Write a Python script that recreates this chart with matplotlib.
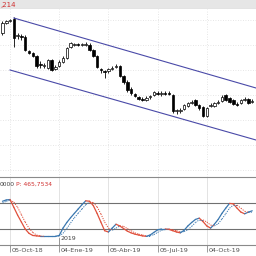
import matplotlib
matplotlib.use("Agg")
import matplotlib.pyplot as plt
import matplotlib.dates as mdates
from matplotlib.patches import Rectangle
import numpy as np
import pandas as pd

# weekly candles (Fridays)
weeks = pd.date_range("2018-09-21", periods=67, freq="7D")

# OHLC
opens = [167, 177, 179, 181, 164, 164.5, 163, 149, 147, 144, 136, 134.5, 132, 140, 131, 134, 138, 142, 153, 155,
         155.5, 155, 155, 155, 150, 144, 130.5, 129, 129, 131, 133.5, 134, 124, 118, 111, 106, 103, 101, 100, 103,
         105, 107, 106.5, 107.5, 107, 105, 89, 89.5, 91, 94, 97, 100, 95, 93, 84, 94, 94, 97.5, 99, 105, 102,
         100, 96, 97, 100.5, 101, 98]
closes = [177, 179, 180, 162, 164.5, 163.5, 150, 147.5, 144, 134, 135, 135.5, 140, 130, 133, 138, 142, 152, 157, 155.5,
          155, 156, 156.5, 150, 144, 133, 130, 128, 131, 132, 134.5, 124, 118, 110, 107, 104, 101.5, 100.5, 102.5, 104,
          108, 106.5, 107.5, 106.5, 106, 89, 89.5, 90, 95, 97, 98, 95, 92, 84, 92, 95.5, 97, 98, 103, 100, 98,
          96, 95.5, 100, 101, 97, 99.5]
highs = [179, 180, 181, 183, 167, 166, 165, 150, 148, 145, 139, 137, 141, 141, 135, 140, 144, 153, 158, 157,
         157, 157, 158, 157, 151, 145, 132, 130, 132, 134, 136, 135, 125, 120, 113, 107, 104, 103, 104, 105,
         109, 109, 109, 109, 109, 106, 91, 92, 96, 98, 100, 101, 96, 94, 93, 97, 98, 100, 105, 106, 103,
         101, 98, 101, 103, 102, 101]
lows = [165, 176, 178, 153, 161, 160, 149, 146, 143, 132, 132, 132, 131, 129, 130, 133, 137, 141, 152, 154,
        154, 154, 154, 149, 143, 132, 127, 122, 127, 130, 132, 123, 116, 108, 105, 103, 100, 99, 99, 101,
        104, 105, 104, 105, 105, 87, 86, 87, 90, 93, 96, 94, 90, 83, 83, 93, 93, 96, 98, 99, 97,
        95, 94, 96, 99, 96, 97]

# channel lines (start date, price) -> (end date, price)
chan_dates = ["2018-10-12", "2020-01-03"]
chan_upper = [182, 112]
chan_lower_dates = ["2018-10-05", "2020-01-03"]
chan_lower = [130, 60]

# stochastic %K (solid) and %D (dotted)
stoch_k = [84, 87, 88, 70, 52, 36, 20, 10, 5, 4, 3, 3, 3, 3, 3, 5, 22, 35, 46, 56,
           66, 76, 85, 84, 74, 56, 36, 16, 13, 22, 31, 27, 21, 15, 11, 8, 6, 4, 3, 6,
           12, 18, 20, 20, 19, 16, 13, 11, 17, 27, 35, 42, 45, 37, 27, 22, 31, 42, 56, 68,
           79, 78, 68, 59, 55, 59, 62]
stoch_d = [80, 84, 86, 82, 70, 53, 36, 22, 12, 6, 4, 3, 3, 3, 3, 4, 10, 21, 34, 46,
           56, 66, 76, 82, 81, 71, 55, 36, 22, 17, 22, 27, 26, 21, 16, 11, 8, 6, 4, 4,
           7, 12, 17, 19, 20, 18, 16, 13, 14, 18, 26, 35, 41, 41, 36, 29, 27, 32, 43, 55,
           68, 75, 75, 68, 61, 58, 59]

tick_dates = ["2018-10-05", "2019-01-04", "2019-04-05", "2019-07-05", "2019-10-04"]
tick_labels = ["05-Oct-18", "04-Ene-19", "05-Abr-19", "05-Jul-19", "04-Oct-19"]

RED = "#e0503c"
BLUE = "#3b78b0"
CHAN = "#4a4aa8"
GRID = "#dedede"

x = mdates.date2num(weeks)
xmin = mdates.date2num(pd.Timestamp("2018-09-16 10:00"))
xmax = mdates.date2num(pd.Timestamp("2020-01-03"))
tx = mdates.date2num(pd.to_datetime(tick_dates))

fig = plt.figure(figsize=(2.56, 2.56), dpi=100)

# top info bar
bar = fig.add_axes([0, 1 - 9 / 256, 1, 9 / 256])
bar.set_facecolor("#e6e6e6")
bar.set_xticks([])
bar.set_yticks([])
for s in bar.spines.values():
    s.set_visible(False)
bar.axhline(0, color="#b0b0b0", lw=0.8)
bar.text(0.0, 0.45, ",214", color="#d03030", fontsize=5, va="center", ha="left", transform=bar.transAxes)

# price panel
ax = fig.add_axes([0, 1 - 177 / 256, 1, 168 / 256])
ax.set_xlim(xmin, xmax)
ax.set_ylim(23, 191)
for s in ax.spines.values():
    s.set_visible(False)
ax.set_xticks(tx)
ax.set_yticks([180, 155, 130, 105, 80, 55, 30])
ax.tick_params(length=0, labelbottom=False, labelleft=False)
ax.grid(True, color=GRID, lw=0.6, linestyle=(0, (1, 2)))
ax.set_axisbelow(True)

w = 4.6
for xi, o, c, h, l in zip(x, opens, closes, highs, lows):
    ax.vlines(xi, l, h, color="black", lw=0.6, zorder=2)
    bottom = min(o, c)
    height = max(abs(c - o), 0.6)
    face = "white" if c >= o else "black"
    ax.add_patch(Rectangle((xi - w / 2, bottom), w, height, facecolor=face,
                           edgecolor="black", lw=0.5, zorder=3))

ax.plot(mdates.date2num(pd.to_datetime(chan_dates)), chan_upper, color=CHAN, lw=0.8)
ax.plot(mdates.date2num(pd.to_datetime(chan_lower_dates)), chan_lower, color=CHAN, lw=0.8)

# stochastic panel
ax2 = fig.add_axes([0, 1 - 245 / 256, 1, 68 / 256])
ax2.set_xlim(xmin, xmax)
ax2.set_ylim(-17, 140)
for name, s in ax2.spines.items():
    if name in ("left", "right"):
        s.set_visible(False)
    else:
        s.set_color("#8a8a8a")
        s.set_linewidth(0.8)
ax2.set_yticks([])
ax2.set_xticks(tx)
ax2.tick_params(axis="x", direction="out", length=5, width=0.6, color="#8a8a8a", labelbottom=False)
ax2.grid(True, axis="x", color=GRID, lw=0.6)
ax2.axhline(80, color="#707070", lw=0.8)
ax2.axhline(20, color="#707070", lw=0.8)

for i in range(len(x) - 1):
    ck = BLUE if stoch_k[i + 1] >= stoch_k[i] else RED
    ax2.plot(x[i:i + 2], stoch_k[i:i + 2], color=ck, lw=0.9, solid_capstyle="round")
    cd = BLUE if stoch_d[i + 1] >= stoch_d[i] else RED
    ax2.plot(x[i:i + 2], stoch_d[i:i + 2], color=cd, lw=0.7, linestyle=(0, (1.2, 1.2)))

ax2.text(0.0, 0.93, "0000", color="#404040", fontsize=4.3, va="top", ha="left", transform=ax2.transAxes)
ax2.text(0.063, 0.93, "P: 465,7534", color="#d03030", fontsize=4.3, va="top", ha="left", transform=ax2.transAxes)

# year marker
ax2.plot([tx[1], tx[1]], [-17, 0], color="#8a8a8a", lw=0.6)
ax2.text(tx[1] + 3, 3, "2019", color="#404040", fontsize=4.5, va="top", ha="left")

# date labels
for t, lab in zip(tx, tick_labels):
    ax2.text(t + 3, -0.04, lab, color="#505050", fontsize=4.6, va="top", ha="left",
             transform=ax2.get_xaxis_transform())

fig.savefig("out.png", dpi=100)
